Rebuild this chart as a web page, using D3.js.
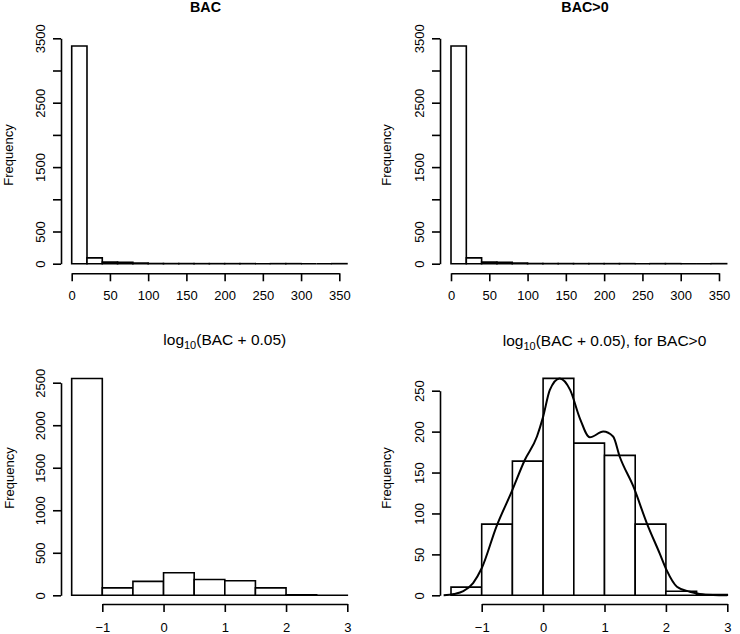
<!DOCTYPE html>
<html><head><meta charset="utf-8">
<script src="https://cdn.jsdelivr.net/npm/d3@7"></script>
<style>
body{margin:0;background:#fff}
svg text{font-family:"Liberation Sans",Arial,Helvetica,sans-serif;fill:#000}
</style>
</head><body>
<svg id="c" width="740" height="634"></svg>
<script>
// ---------- data ----------
const bacBreaks = [0,20,40,60,80,100,120,140,160,180,200,220,240,260,280,300,320,340,360];
const bacCounts = [3380,90,25,22,10,3,2,2,1,1,1,1,0,1,1,0,0,1];
const bacPosCounts = [3380,90,25,22,10,3,2,2,1,1,1,1,0,1,1,0,0,1];
const logBreaks = [-1.5,-1,-0.5,0,0.5,1,1.5,2,2.5,3];
const logCounts = [2550,87,164,265,186,171,87,5,1];
const logPosCounts = [10,87,164,265,186,171,87,5,1];
const densX = [-1.62,-1.45,-1.3,-1.14,-1.0,-0.76,-0.51,-0.3,-0.1,0.0,0.11,0.27,0.44,0.6,0.76,0.98,1.14,1.25,1.47,1.69,1.9,2.01,2.18,2.39,2.55,2.77,3.0];
const densY = [0,1.5,5,15,33,84,127,165,194,218,251,265,251,216,193,200,194,169,133,88,51,31,10.5,4.4,1.6,0.3,0];
const bacXTicks = [0,50,100,150,200,250,300,350];
const bacYTicks = [0,500,1000,1500,2000,2500,3000,3500];
const bacYLabels = [0,500,1500,2500,3500];
const logXTicks = [-1,0,1,2,3];
const logYTicks = [0,500,1000,1500,2000,2500];
const logPosYTicks = [0,50,100,150,200,250];
const titles = ["BAC","BAC>0","(BAC + 0.05)","(BAC + 0.05), for BAC>0"];

// ---------- drawing ----------
const svg = d3.select("#c");
const SW = 1.6;
function fmt(v){ return v < 0 ? "\u2212" + Math.abs(v) : String(v); }

function panel(o){
  const g = svg.append("g");
  const x = d3.scaleLinear().domain(o.xd).range(o.xr);
  const y = d3.scaleLinear().domain(o.yd).range(o.yr);

  g.selectAll("path.bar").data(o.counts).join("path")
    .attr("class","bar")
    .attr("d",(c,i)=>`M${x(o.breaks[i])},${y(0)}V${y(c)}H${x(o.breaks[i+1])}V${y(0)}Z`)
    .attr("fill","#fff").attr("stroke","#000").attr("stroke-width",SW);

  if (o.dens){
    const line = d3.line().x(d=>x(d[0])).y(d=>y(d[1])).curve(d3.curveMonotoneX);
    g.append("path").datum(densX.map((v,i)=>[v,densY[i]]))
      .attr("d",line).attr("fill","none").attr("stroke","#000").attr("stroke-width",2);
  }

  const xa = g.append("g").attr("transform",`translate(0,${o.xAxisY})`)
    .call(d3.axisBottom(x).tickValues(o.xTicks).tickSize(8).tickSizeOuter(0).tickPadding(o.xPad).tickFormat(fmt));
  const ya = g.append("g").attr("transform",`translate(${o.yAxisX},0)`)
    .call(d3.axisLeft(y).tickValues(o.yTicks).tickSize(8).tickSizeOuter(0)
      .tickFormat(v => (o.yLabels ? (o.yLabels.includes(v) ? String(v) : "") : String(v))));
  [xa,ya].forEach(a=>{
    a.attr("font-family",null).attr("font-size",13);
    a.selectAll("path,line").attr("stroke","#000").attr("stroke-width",SW);
  });
  ya.selectAll(".tick text").attr("transform","rotate(-90)")
    .attr("x",0).attr("y",-21).attr("dy","0.35em").attr("text-anchor","middle");

  const cx = (o.xr[0]+o.xr[1])/2;
  // title
  if (o.sub){
    const t = g.append("text").attr("x",cx).attr("y",o.titleY).attr("text-anchor","middle").attr("font-size",15.5);
    t.append("tspan").text("log");
    t.append("tspan").attr("font-size",11).attr("dy",4).text("10");
    t.append("tspan").attr("dy",-4).text(o.title);
  } else {
    g.append("text").attr("x",cx).attr("y",o.titleY).attr("text-anchor","middle")
      .attr("font-size",14.3).attr("font-weight","bold").text(o.title);
  }
  // y label
  const cy = (o.yr[0]+o.yr[1])/2;
  g.append("text").attr("transform",`translate(${o.ylabX},${o.ylabCY}) rotate(-90)`)
    .attr("text-anchor","middle").attr("dy","0.35em").attr("font-size",13).text("Frequency");
}

panel({breaks:bacBreaks,counts:bacCounts,xd:[0,350],xr:[71.7,339.3],yd:[0,3500],yr:[263.7,38.3],
  xTicks:bacXTicks,yTicks:bacYTicks,yLabels:bacYLabels,xAxisY:273.3,yAxisX:61,xPad:9,
  title:titles[0],titleY:12,ylabX:8,ylabCY:155});
panel({breaks:bacBreaks,counts:bacPosCounts,xd:[0,350],xr:[451,719],yd:[0,3500],yr:[263.7,38.3],
  xTicks:bacXTicks,yTicks:bacYTicks,yLabels:bacYLabels,xAxisY:273.3,yAxisX:440,xPad:9,
  title:titles[1],titleY:12,ylabX:386,ylabCY:155});
panel({breaks:logBreaks,counts:logCounts,xd:[-1,3],xr:[102.3,347.3],yd:[0,2500],yr:[595.3,382.7],
  xTicks:logXTicks,yTicks:logYTicks,xAxisY:604,yAxisX:61,xPad:11,
  title:titles[2],sub:true,titleY:345,ylabX:9,ylabCY:478});
panel({breaks:logBreaks,counts:logPosCounts,xd:[-1,3],xr:[481.7,727.3],yd:[0,250],yr:[595.3,390.7],
  xTicks:logXTicks,yTicks:logPosYTicks,xAxisY:604,yAxisX:440,xPad:11,dens:true,
  title:titles[3],sub:true,titleY:346,ylabX:386,ylabCY:478});
</script>
</body></html>
